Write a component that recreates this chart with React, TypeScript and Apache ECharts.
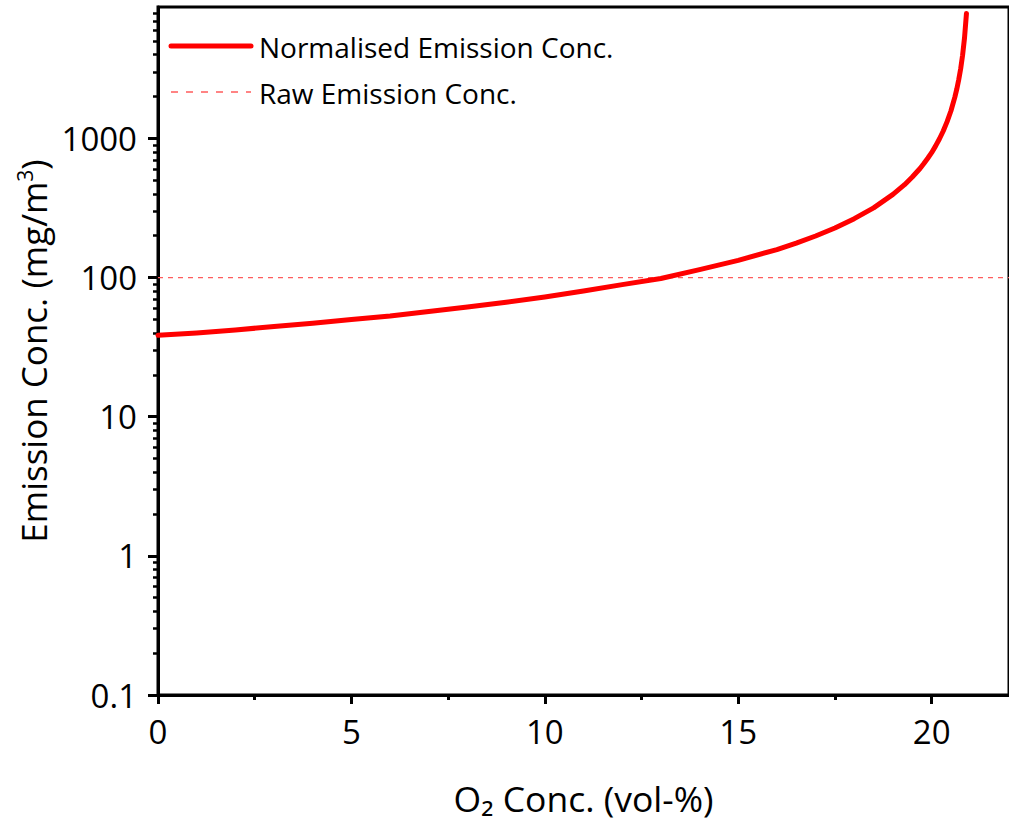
import React, { useEffect, useRef } from "react";
import * as echarts from "echarts";

// O2 concentration (vol-%) and the normalised emission concentration (mg/m3)
const o2Conc = [
  0, 1, 2, 3, 4, 5, 6, 7, 8, 9, 10, 11, 12, 13, 14, 15, 16, 16.5, 17, 17.5, 18,
  18.5, 19, 19.3, 19.5, 19.7, 19.8, 19.9, 20, 20.1, 20.2, 20.3, 20.4, 20.5,
  20.6, 20.65, 20.7, 20.75, 20.8, 20.85, 20.9,
];
const normalisedConc = [
  38.5, 40, 42, 44.5, 47, 50, 53, 57, 61.5, 66.5, 72.5, 80, 89, 98.5, 114, 133,
  159, 177, 199, 227, 265, 317, 396, 465, 528, 608, 660, 720, 790, 880, 990,
  1130, 1320, 1580, 1980, 2260, 2640, 3160, 3960, 5280, 7900,
];

// Raw emission concentration, constant over the whole O2 range
const rawO2 = [0, 22];
const rawConc = [100, 100];

const legendNames = ["Normalised Emission Conc.", "Raw Emission Conc."];

const xMajorTicks = [0, 5, 10, 15, 20];
const xMinorTicks = [2.5, 7.5, 12.5, 17.5];
const yMajorTicks = [0.1, 1, 10, 100, 1000];
const yMinorTicks = [
  0.2, 0.3, 0.4, 0.5, 0.6, 0.7, 0.8, 0.9,
  2, 3, 4, 5, 6, 7, 8, 9,
  20, 30, 40, 50, 60, 70, 80, 90,
  200, 300, 400, 500, 600, 700, 800, 900,
  2000, 3000, 4000, 5000, 6000, 7000, 8000,
];

const FONT = "Open Sans";
const INK = "#000000";
const RED = "#ff0000";
const RAW_RED = "#ff5c5c";

export default function App() {
  const ref = useRef<HTMLDivElement>(null);

  useEffect(() => {
    document.body.style.margin = "0";
    if (!ref.current) return;
    const chart = echarts.init(ref.current, undefined, { renderer: "svg" });

    const normData = o2Conc.map((x, i) => [x, normalisedConc[i]]);
    const rawData = rawO2.map((x, i) => [x, rawConc[i]]);

    const fmt = (v: number) => String(Number(Number(v).toPrecision(6)));

    chart.setOption({
      animation: false,
      backgroundColor: "#ffffff",
      textStyle: { fontFamily: FONT },
      grid: {
        left: 158,
        top: 7,
        right: -4.5,
        bottom: 132,
        show: true,
        borderColor: INK,
        borderWidth: 3,
        backgroundColor: "transparent",
      },
      // legend drawn as plain shapes and text in the upper-left of the plot
      graphic: [
        {
          type: "line",
          shape: { x1: 171, y1: 46, x2: 251, y2: 46 },
          style: { stroke: RED, lineWidth: 5, lineCap: "round" },
          z: 10,
        },
        {
          type: "text",
          x: 259,
          y: 47,
          style: {
            text: legendNames[0],
            fontFamily: FONT,
            fontSize: 28,
            fill: INK,
            verticalAlign: "middle",
          },
          z: 10,
        },
        {
          type: "line",
          shape: { x1: 171, y1: 92, x2: 251, y2: 92 },
          style: { stroke: RAW_RED, lineWidth: 1.5, lineDash: [7, 8] },
          z: 10,
        },
        {
          type: "text",
          x: 259,
          y: 93,
          style: {
            text: legendNames[1],
            fontFamily: FONT,
            fontSize: 28,
            fill: INK,
            verticalAlign: "middle",
          },
          z: 10,
        },
      ],
      xAxis: [
        {
          type: "value",
          min: 0,
          max: 22,
          interval: 5,
          position: "bottom",
          name: "O\u2082 Conc. (vol-%)",
          nameLocation: "middle",
          nameGap: 85,
          nameTextStyle: {
            fontFamily: FONT,
            fontSize: 35.5,
            color: INK,
          },
          axisLine: { show: true, lineStyle: { color: INK, width: 3 } },
          axisTick: {
            show: true,
            inside: false,
            length: 9,
            lineStyle: { color: INK, width: 3 },
            customValues: xMajorTicks,
          },
          axisLabel: {
            show: true,
            margin: 20,
            fontFamily: FONT,
            fontSize: 33,
            color: INK,
            customValues: xMajorTicks,
            formatter: (v: number) => fmt(v),
          },
          splitLine: { show: false },
        },
        {
          type: "value",
          min: 0,
          max: 22,
          interval: 5,
          position: "bottom",
          axisLine: { show: false },
          axisTick: {
            show: true,
            inside: false,
            length: 5,
            lineStyle: { color: INK, width: 3 },
            customValues: xMinorTicks,
          },
          axisLabel: { show: false },
          splitLine: { show: false },
        },
      ],
      yAxis: [
        {
          type: "log",
          logBase: 10,
          min: 0.1,
          max: 8800,
          position: "left",
          name: "{m|Emission Conc. (mg/m}{s|3}{m|)}",
          nameLocation: "middle",
          nameGap: 104,
          nameRotate: 90,
          nameTextStyle: {
            fontFamily: FONT,
            fontSize: 35,
            color: INK,
            rich: {
              m: { fontFamily: FONT, fontSize: 35, color: INK },
              s: {
                fontFamily: FONT,
                fontSize: 21,
                color: INK,
                verticalAlign: "top",
                padding: [0, 0, 16, 0],
              },
            },
          },
          axisLine: { show: true, lineStyle: { color: INK, width: 3 } },
          axisTick: {
            show: true,
            inside: false,
            length: 10,
            lineStyle: { color: INK, width: 3 },
            customValues: yMajorTicks,
          },
          axisLabel: {
            show: true,
            margin: 21,
            fontFamily: FONT,
            fontSize: 33,
            color: INK,
            customValues: yMajorTicks,
            formatter: (v: number) => fmt(v),
          },
          splitLine: { show: false },
        },
        {
          type: "log",
          logBase: 10,
          min: 0.1,
          max: 8800,
          position: "left",
          axisLine: { show: false },
          axisTick: {
            show: true,
            inside: false,
            length: 5,
            lineStyle: { color: INK, width: 2.5 },
            customValues: yMinorTicks,
          },
          axisLabel: { show: false },
          splitLine: { show: false },
        },
      ],
      series: [
        {
          name: legendNames[0],
          type: "line",
          xAxisIndex: 0,
          yAxisIndex: 0,
          data: normData,
          showSymbol: false,
          symbol: "none",
          smooth: false,
          lineStyle: { color: RED, width: 5, cap: "round", join: "round" },
          itemStyle: { color: RED },
          z: 3,
        },
        {
          name: legendNames[1],
          type: "line",
          xAxisIndex: 0,
          yAxisIndex: 0,
          data: rawData,
          showSymbol: false,
          symbol: "none",
          lineStyle: { color: RAW_RED, width: 1.2, type: [5, 5] },
          itemStyle: { color: RAW_RED },
          z: 2,
        },
      ],
    });

    return () => chart.dispose();
  }, []);

  return <div ref={ref} style={{ width: 1009, height: 827 }} />;
}
